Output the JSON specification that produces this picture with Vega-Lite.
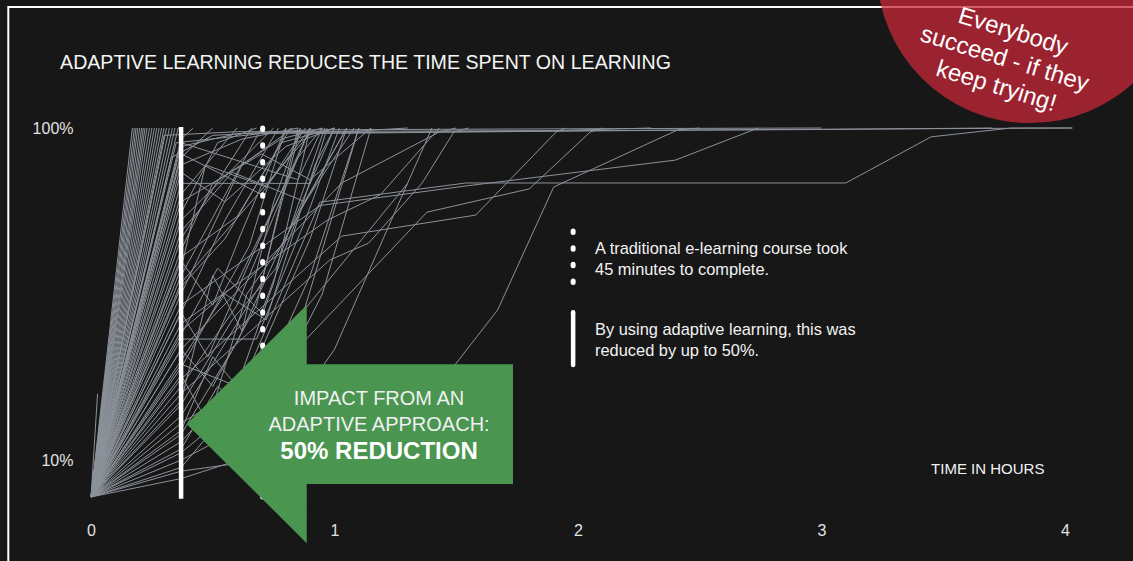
{
  "$schema": "https://vega.github.io/schema/vega-lite/v6.json",
  "width": 974,
  "height": 369,
  "autosize": "none",
  "padding": {"left": 91, "top": 128, "right": 68, "bottom": 64},
  "background": "#171717",
  "config": {"view": {"stroke": null}, "font": "Liberation Sans"},
  "encoding": {
    "x": {"field": "t", "type": "quantitative", "scale": {"domain": [0, 4], "nice": false, "zero": false},
      "axis": {"values": [0, 1, 2, 3, 4], "title": null, "domain": false, "ticks": false, "grid": false, "labelPadding": 25, "labelFontSize": 16, "labelColor": "#e2e2e2", "labelFont": "Liberation Sans", "labelFlush": false}},
    "y": {"field": "p", "type": "quantitative", "scale": {"domain": [0, 100], "nice": false, "zero": false},
      "axis": {"values": [10, 100], "title": null, "domain": false, "ticks": false, "grid": false, "labelPadding": 18, "labelFontSize": 16, "labelColor": "#e2e2e2", "labelFont": "Liberation Sans", "labelExpr": "datum.value + '%'"}}
  },
  "layer": [
    {
      "data": {"values": [{"t": -0.3396, "t2": 4.6, "p": 132.8, "p2": -30}]},
      "mark": {"type": "rect", "fill": "transparent", "stroke": "#ffffff", "strokeWidth": 2},
      "encoding": {"x2": {"field": "t2"}, "y2": {"field": "p2"}}
    },
    {
      "data": {"values": [
        {"s":1,"t":0,"p":0},{"s":1,"t":0.17,"p":100},
        {"s":3,"t":0,"p":0},{"s":3,"t":0.178,"p":100},
        {"s":4,"t":0,"p":0},{"s":4,"t":0.185,"p":100},
        {"s":5,"t":0,"p":0},{"s":5,"t":0.192,"p":100},
        {"s":7,"t":0,"p":0},{"s":7,"t":0.2,"p":100},
        {"s":9,"t":0,"p":0},{"s":9,"t":0.208,"p":100},
        {"s":10,"t":0,"p":0},{"s":10,"t":0.215,"p":100},
        {"s":11,"t":0,"p":0},{"s":11,"t":0.222,"p":100},
        {"s":13,"t":0,"p":0},{"s":13,"t":0.23,"p":100},
        {"s":15,"t":0,"p":0},{"s":15,"t":0.24,"p":100},
        {"s":17,"t":0,"p":0},{"s":17,"t":0.25,"p":100},
        {"s":19,"t":0,"p":0},{"s":19,"t":0.26,"p":100},
        {"s":21,"t":0,"p":0},{"s":21,"t":0.27,"p":100},
        {"s":22,"t":0,"p":0},{"s":22,"t":0.28,"p":100},
        {"s":23,"t":0,"p":0},{"s":23,"t":0.29,"p":100},
        {"s":24,"t":0,"p":0},{"s":24,"t":0.3,"p":100},
        {"s":25,"t":0,"p":0},{"s":25,"t":0.31,"p":100},
        {"s":26,"t":0,"p":0},{"s":26,"t":0.322,"p":100},
        {"s":27,"t":0,"p":0},{"s":27,"t":0.334,"p":100},
        {"s":28,"t":0,"p":0},{"s":28,"t":0.345,"p":100},
        {"s":30,"t":0,"p":0},{"s":30,"t":0.358,"p":100},
        {"s":31,"t":0,"p":0},{"s":31,"t":0.37,"p":97},{"s":31,"t":0.42,"p":100},
        {"s":32,"t":0,"p":0},{"s":32,"t":0.37,"p":95},{"s":32,"t":0.6,"p":98.5},{"s":32,"t":1.05,"p":99},{"s":32,"t":1.3,"p":100},
        {"s":33,"t":0,"p":0},{"s":33,"t":0.37,"p":92},{"s":33,"t":0.5,"p":100},
        {"s":34,"t":0,"p":0},{"s":34,"t":0.37,"p":90},{"s":34,"t":0.62,"p":97},{"s":34,"t":0.85,"p":100},
        {"s":35,"t":0,"p":0},{"s":35,"t":0.37,"p":88},{"s":35,"t":0.55,"p":80},{"s":35,"t":0.8,"p":95},{"s":35,"t":1.0,"p":100},
        {"s":36,"t":0,"p":0},{"s":36,"t":0.37,"p":85},{"s":36,"t":0.9,"p":85},{"s":36,"t":0.97,"p":100},
        {"s":37,"t":0,"p":0},{"s":37,"t":0.37,"p":82},{"s":37,"t":0.6,"p":100},
        {"s":38,"t":0,"p":0},{"s":38,"t":0.37,"p":80},{"s":38,"t":0.7,"p":93},{"s":38,"t":0.9,"p":86},{"s":38,"t":1.15,"p":100},
        {"s":39,"t":0,"p":0},{"s":39,"t":0.37,"p":77},{"s":39,"t":0.52,"p":96},{"s":39,"t":0.68,"p":100},
        {"s":40,"t":0,"p":0},{"s":40,"t":0.37,"p":75},{"s":40,"t":0.75,"p":100},
        {"s":41,"t":0,"p":0},{"s":41,"t":0.37,"p":72},{"s":41,"t":0.58,"p":88},{"s":41,"t":0.88,"p":80},{"s":41,"t":1.08,"p":100},
        {"s":42,"t":0,"p":0},{"s":42,"t":0.37,"p":70},{"s":42,"t":0.66,"p":100},
        {"s":43,"t":0,"p":0},{"s":43,"t":0.37,"p":67},{"s":43,"t":0.5,"p":85},{"s":43,"t":0.78,"p":97},{"s":43,"t":0.95,"p":100},
        {"s":44,"t":0,"p":0},{"s":44,"t":0.37,"p":65},{"s":44,"t":0.6,"p":76},{"s":44,"t":0.82,"p":100},
        {"s":45,"t":0,"p":0},{"s":45,"t":0.37,"p":62},{"s":45,"t":0.47,"p":90},{"s":45,"t":0.72,"p":84},{"s":45,"t":0.9,"p":100},
        {"s":46,"t":0,"p":0},{"s":46,"t":0.37,"p":60},{"s":46,"t":0.7,"p":100},
        {"s":47,"t":0,"p":0},{"s":47,"t":0.37,"p":57},{"s":47,"t":0.55,"p":70},{"s":47,"t":0.78,"p":96},{"s":47,"t":1.0,"p":100},
        {"s":48,"t":0,"p":0},{"s":48,"t":0.37,"p":55},{"s":48,"t":0.62,"p":90},{"s":48,"t":0.83,"p":100},
        {"s":49,"t":0,"p":0},{"s":49,"t":0.37,"p":52},{"s":49,"t":0.94,"p":79},{"s":49,"t":1.54,"p":84.3},{"s":49,"t":2.4,"p":91.3},{"s":49,"t":2.74,"p":100},
        {"s":50,"t":0,"p":0},{"s":50,"t":0.37,"p":50},{"s":50,"t":0.55,"p":75},{"s":50,"t":0.77,"p":100},
        {"s":51,"t":0,"p":0},{"s":51,"t":0.37,"p":47},{"s":51,"t":0.97,"p":75},{"s":51,"t":1.19,"p":82},{"s":51,"t":1.43,"p":100},
        {"s":52,"t":0,"p":0},{"s":52,"t":0.37,"p":45},{"s":52,"t":0.6,"p":58},{"s":52,"t":0.85,"p":92},{"s":52,"t":0.95,"p":100},
        {"s":53,"t":0,"p":0},{"s":53,"t":0.37,"p":42.8},{"s":53,"t":0.68,"p":42.8},{"s":53,"t":0.88,"p":75},{"s":53,"t":1.02,"p":100},
        {"s":54,"t":0,"p":0},{"s":54,"t":0.37,"p":40},{"s":54,"t":1.03,"p":85.1},{"s":54,"t":1.43,"p":98.9},{"s":54,"t":1.5,"p":100},
        {"s":55,"t":0,"p":0},{"s":55,"t":0.37,"p":37},{"s":55,"t":0.55,"p":55},{"s":55,"t":0.72,"p":48},{"s":55,"t":0.92,"p":90},{"s":55,"t":1.0,"p":100},
        {"s":56,"t":0,"p":0},{"s":56,"t":0.37,"p":35},{"s":56,"t":0.65,"p":68},{"s":56,"t":0.8,"p":100},
        {"s":57,"t":0,"p":0},{"s":57,"t":0.37,"p":32},{"s":57,"t":1.03,"p":70.7},{"s":57,"t":1.58,"p":76.4},{"s":57,"t":1.91,"p":98.9},{"s":57,"t":1.95,"p":100},
        {"s":58,"t":0,"p":0},{"s":58,"t":0.37,"p":30},{"s":58,"t":0.6,"p":52},{"s":58,"t":0.9,"p":100},
        {"s":59,"t":0,"p":0},{"s":59,"t":0.37,"p":28},{"s":59,"t":0.98,"p":64.2},{"s":59,"t":1.14,"p":68.8},{"s":59,"t":1.36,"p":85.1},{"s":59,"t":1.49,"p":98.9},{"s":59,"t":1.55,"p":100},
        {"s":60,"t":0,"p":0},{"s":60,"t":0.37,"p":25},{"s":60,"t":0.58,"p":48},{"s":60,"t":0.76,"p":62},{"s":60,"t":0.96,"p":100},
        {"s":61,"t":0,"p":0},{"s":61,"t":0.37,"p":22},{"s":61,"t":0.7,"p":58},{"s":61,"t":0.86,"p":100},
        {"s":62,"t":0,"p":0},{"s":62,"t":0.37,"p":20},{"s":62,"t":0.62,"p":30},{"s":62,"t":1.3,"p":85},
        {"s":63,"t":0,"p":0},{"s":63,"t":0.37,"p":17},{"s":63,"t":0.6,"p":42},{"s":63,"t":0.78,"p":68},{"s":63,"t":1.05,"p":100},
        {"s":64,"t":0,"p":0},{"s":64,"t":0.37,"p":15},{"s":64,"t":0.65,"p":35},{"s":64,"t":0.94,"p":79.9},{"s":64,"t":1.54,"p":85.1},{"s":64,"t":3.1,"p":85.1},{"s":64,"t":3.45,"p":97.6},{"s":64,"t":3.78,"p":100},{"s":64,"t":4.03,"p":100},
        {"s":65,"t":0,"p":0},{"s":65,"t":0.37,"p":12},{"s":65,"t":0.7,"p":30},{"s":65,"t":1.38,"p":77.2},{"s":65,"t":1.8,"p":83.5},{"s":65,"t":2.05,"p":98.9},{"s":65,"t":2.1,"p":100},
        {"s":66,"t":0,"p":0},{"s":66,"t":0.37,"p":10},{"s":66,"t":0.6,"p":18},{"s":66,"t":0.85,"p":45},{"s":66,"t":1.1,"p":100},
        {"s":67,"t":0,"p":0},{"s":67,"t":0.37,"p":7},{"s":67,"t":1.25,"p":15},{"s":67,"t":1.67,"p":50.7},{"s":67,"t":1.9,"p":84},{"s":67,"t":2.41,"p":99.5},{"s":67,"t":2.5,"p":100},
        {"s":68,"t":0,"p":0},{"s":68,"t":0.37,"p":5},{"s":68,"t":0.7,"p":12},{"s":68,"t":1.0,"p":40},{"s":68,"t":1.2,"p":70},{"s":68,"t":1.4,"p":100},
        {"s":69,"t":0,"p":0},{"s":69,"t":0.37,"p":58},{"s":69,"t":0.9,"p":98.5},{"s":69,"t":2.0,"p":99.2},{"s":69,"t":3.0,"p":99.6},{"s":69,"t":3.7,"p":100},
        {"s":70,"t":0,"p":0},{"s":70,"t":0.027,"p":28},
        {"s":71,"t":0,"p":0},{"s":71,"t":0.3,"p":98},{"s":71,"t":0.6,"p":99},{"s":71,"t":1.9,"p":99.3},{"s":71,"t":2.3,"p":100},
        {"s":72,"t":0,"p":0},{"s":72,"t":0.35,"p":96},{"s":72,"t":0.7,"p":98.5},{"s":72,"t":1.5,"p":99},{"s":72,"t":2.5,"p":99.5},{"s":72,"t":4.03,"p":100},
        {"s":73,"t":0,"p":0},{"s":73,"t":0.33,"p":92},{"s":73,"t":0.5,"p":98},{"s":73,"t":0.9,"p":99.5},{"s":73,"t":2.0,"p":99.8},{"s":73,"t":3.0,"p":100},
        {"s":74,"t":0,"p":0},{"s":74,"t":0.37,"p":96},{"s":74,"t":0.85,"p":86},{"s":74,"t":0.95,"p":100},
        {"s":75,"t":0,"p":0},{"s":75,"t":0.37,"p":93},{"s":75,"t":0.7,"p":82},{"s":75,"t":0.88,"p":100},
        {"s":76,"t":0,"p":0},{"s":76,"t":0.37,"p":26},{"s":76,"t":0.5,"p":60},{"s":76,"t":0.62,"p":45},{"s":76,"t":0.75,"p":80},{"s":76,"t":0.86,"p":100},
        {"s":77,"t":0,"p":0},{"s":77,"t":0.37,"p":33},{"s":77,"t":0.48,"p":20},{"s":77,"t":0.64,"p":55},{"s":77,"t":0.8,"p":70},{"s":77,"t":1.0,"p":100},
        {"s":78,"t":0,"p":0},{"s":78,"t":0.37,"p":18},{"s":78,"t":0.5,"p":38},{"s":78,"t":0.66,"p":25},{"s":78,"t":0.9,"p":60},{"s":78,"t":1.1,"p":100},
        {"s":79,"t":0,"p":0},{"s":79,"t":0.37,"p":40},{"s":79,"t":0.5,"p":30},{"s":79,"t":0.68,"p":52},{"s":79,"t":0.85,"p":100},
        {"s":80,"t":0,"p":0},{"s":80,"t":0.37,"p":13},{"s":80,"t":0.52,"p":30},{"s":80,"t":0.68,"p":20},{"s":80,"t":0.95,"p":55},{"s":80,"t":1.15,"p":100},
        {"s":81,"t":0,"p":0},{"s":81,"t":0.37,"p":50},{"s":81,"t":0.48,"p":38},{"s":81,"t":0.66,"p":65},{"s":81,"t":0.9,"p":100},
        {"s":82,"t":0,"p":0},{"s":82,"t":0.37,"p":64},{"s":82,"t":0.5,"p":52},{"s":82,"t":0.62,"p":72},{"s":82,"t":0.8,"p":100},
        {"s":83,"t":0,"p":0},{"s":83,"t":0.37,"p":8},{"s":83,"t":0.55,"p":22},{"s":83,"t":0.7,"p":40},{"s":83,"t":0.9,"p":70},{"s":83,"t":1.05,"p":100},
        {"s":84,"t":0,"p":0},{"s":84,"t":0.37,"p":44},{"s":84,"t":0.52,"p":62},{"s":84,"t":0.7,"p":50},{"s":84,"t":0.86,"p":78},{"s":84,"t":1.05,"p":100},
        {"s":85,"t":0,"p":0},{"s":85,"t":0.37,"p":36},{"s":85,"t":0.6,"p":30},{"s":85,"t":0.75,"p":58},{"s":85,"t":0.9,"p":100}
      ]},
      "mark": {"type": "line", "color": "#8c929a", "strokeWidth": 1, "interpolate": "linear"},
      "encoding": {"detail": {"field": "s", "type": "nominal"}}
    },
    {
      "data": {"values": [{"t": 0.37, "p": 100.3, "p2": -0.5}]},
      "mark": {"type": "rule", "color": "#ffffff", "strokeWidth": 4.5},
      "encoding": {"y2": {"field": "p2"}}
    },
    {
      "data": {"values": [{"t": 0.705, "p": 100, "p2": -0.5}, {"t": 1.98, "p": 72.1, "p2": 56.9}]},
      "mark": {"type": "rule", "color": "#ffffff", "strokeWidth": 5, "strokeCap": "round", "strokeDash": [1.5, 15.2]},
      "encoding": {"y2": {"field": "p2"}}
    },
    {
      "data": {"values": [{"t": 1.98, "p": 50.1, "p2": 35.8}]},
      "mark": {"type": "rule", "color": "#ffffff", "strokeWidth": 4.5, "strokeCap": "round"},
      "encoding": {"y2": {"field": "p2"}}
    },
    {
      "data": {"values": [
        {"t": 0.393, "p": 19.8, "p2": 19.8},
        {"t": 0.886, "p": 52.0, "p2": -12.5},
        {"t": 0.8861, "p": 36.0, "p2": 3.5},
        {"t": 1.733, "p": 36.0, "p2": 3.5}
      ]},
      "mark": {"type": "area", "color": "#4a9550", "interpolate": "linear", "orient": "vertical", "opacity": 1},
      "encoding": {"y2": {"field": "p2"}}
    },
    {
      "data": {"values": [{"t": 1.183, "p": 24.9, "label": "IMPACT FROM AN\nADAPTIVE APPROACH:"}]},
      "mark": {"type": "text", "align": "center", "baseline": "alphabetic", "fontSize": 20, "font": "Liberation Sans", "color": "#f0f0f0", "lineBreak": "\n", "lineHeight": 26},
      "encoding": {"text": {"field": "label"}}
    },
    {
      "data": {"values": [{"t": 1.183, "p": 10.2, "label": "50% REDUCTION"}]},
      "mark": {"type": "text", "align": "center", "baseline": "alphabetic", "fontSize": 24, "fontWeight": "bold", "font": "Liberation Sans", "color": "#ffffff"},
      "encoding": {"text": {"field": "label"}}
    },
    {
      "data": {"values": [
        {"t": 2.07, "p": 65.8, "label": "A traditional e-learning course took\n45 minutes to complete."},
        {"t": 2.07, "p": 43.9, "label": "By using adaptive learning, this was\nreduced by up to 50%."}
      ]},
      "mark": {"type": "text", "align": "left", "baseline": "alphabetic", "fontSize": 16.4, "font": "Liberation Sans", "color": "#f2f2f2", "lineBreak": "\n", "lineHeight": 21.3},
      "encoding": {"text": {"field": "label"}}
    },
    {
      "data": {"values": [{"t": 3.45, "p": 6.2, "label": "TIME IN HOURS"}]},
      "mark": {"type": "text", "align": "left", "baseline": "alphabetic", "fontSize": 15, "font": "Liberation Sans", "color": "#f2f2f2"},
      "encoding": {"text": {"field": "label"}}
    },
    {
      "data": {"values": [{"t": -0.127, "p": 116.1, "label": "ADAPTIVE LEARNING REDUCES THE TIME SPENT ON LEARNING"}]},
      "mark": {"type": "text", "align": "left", "baseline": "alphabetic", "fontSize": 19.6, "font": "Liberation Sans", "color": "#f4f4f4"},
      "encoding": {"text": {"field": "label"}}
    },
    {
      "data": {"values": [{"t": 3.856, "p": 142.8}]},
      "mark": {"type": "point", "shape": "circle", "filled": true, "size": 93636, "color": "#c82738", "opacity": 0.75, "strokeWidth": 0}
    },
    {
      "data": {"values": [{"t": 3.786, "p": 126.0, "label": "Everybody\nsucceed - if they\nkeep trying!"}]},
      "mark": {"type": "text", "align": "center", "baseline": "middle", "angle": 17, "fontSize": 24, "font": "Liberation Sans", "color": "#ffffff", "lineBreak": "\n", "lineHeight": 28.5},
      "encoding": {"text": {"field": "label"}}
    }
  ]
}
